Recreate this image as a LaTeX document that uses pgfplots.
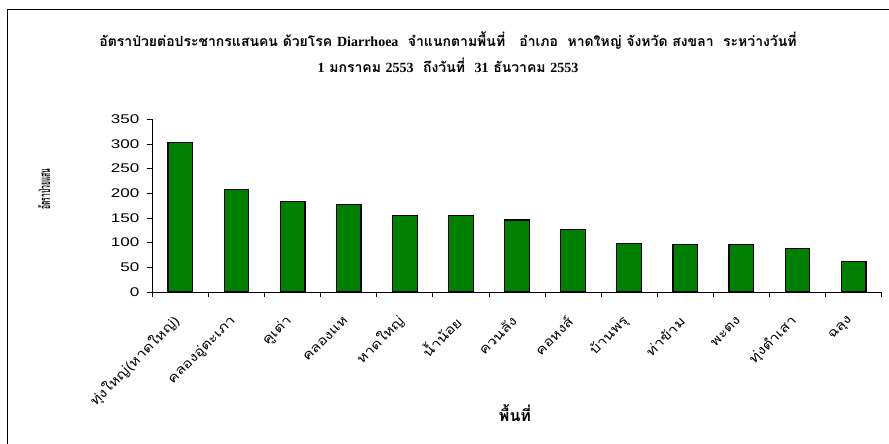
\documentclass[border=0pt]{standalone}
\usepackage{fontspec}
\usepackage{pgfplots}
\pgfplotsset{compat=1.18}
\setmainfont{Liberation Sans}
\newfontfamily\thai[Script=Thai]{Loma}
\newfontfamily\thaic[Script=Thai,FakeStretch=0.45]{Loma}
\newfontfamily\thaiw[Script=Thai,FakeStretch=1.2]{Loma}
\newfontfamily\numfont[FakeStretch=1.35]{Liberation Sans}
\newfontfamily\tserif{Liberation Serif}
\definecolor{bargreen}{RGB}{0,128,0}
\begin{document}
\begin{tikzpicture}[x=1pt,y=1pt]
\useasboundingbox (0,0) rectangle (889,444);
\draw[line width=1pt] (7,-5) -- (7,434.7) -- (895,434.7);
\node[font=\thai\bfseries\fontsize{14}{16}\selectfont] at (448,403) {อัตราป่วยต่อประชากรแสนคน ด้วยโรค {\tserif\bfseries Diarrhoea} \ จำแนกตามพื้นที่ \ \ อำเภอ \ หาดใหญ่ จังหวัด สงขลา \ ระหว่างวันที่};
\node[font=\thai\bfseries\fontsize{14}{16}\selectfont] at (448,379) {{\tserif\bfseries 1} มกราคม {\tserif\bfseries 2553} \ ถึงวันที่ \ {\tserif\bfseries 31} ธันวาคม {\tserif\bfseries 2553}};
\node[font=\thaic\bfseries\fontsize{15}{17}\selectfont, rotate=90] at (44,255) {อัตราป่วยแสน};
\node[font=\thai\bfseries\fontsize{16}{18}\selectfont] at (515,31) {พื้นที่};
\begin{axis}[
  at={(152.3pt,152pt)}, anchor=south west, scale only axis,
  width=729.4pt, height=172.7pt,
  xmin=-0.5, xmax=12.5, ymin=0, ymax=350,
  ytick={0,50,...,350},
  xtick={0,...,12},
  xticklabels={ทุ่งใหญ่(หาดใหญ่),คลองอู่ตะเภา,คูเต่า,คลองแห,หาดใหญ่,น้ำน้อย,ควนลัง,คอหงส์,บ้านพรุ,ท่าข้าม,พะตง,ทุ่งตำเสา,ฉลุง},
  minor xtick={-0.5,0.5,...,12.5},
  major x tick style={draw=none},
  axis x line=bottom, axis y line=left,
  axis line style={-, line width=0.8pt, black},
  tick style={black, line width=0.8pt},
  tick align=outside,
  major tick length=5.5pt, minor tick length=5.5pt,
  /pgf/number format/assume math mode=true,
  yticklabel style={font=\numfont\fontsize{12.6}{13}\selectfont, xshift=-4pt},
  xticklabel style={font=\thaiw\fontsize{13}{15}\selectfont, rotate=45, anchor=east, inner sep=0pt, xshift=-17pt, yshift=-13pt},
]
\addplot[ybar, bar width=24.7pt, fill=bargreen, draw=black, line width=1.2pt] coordinates {
(0,303) (1,207) (2,184) (3,178) (4,155) (5,155) (6,146) (7,126) (8,99) (9,97) (10,97) (11,88) (12,61)};
\end{axis}
\end{tikzpicture}
\end{document}
